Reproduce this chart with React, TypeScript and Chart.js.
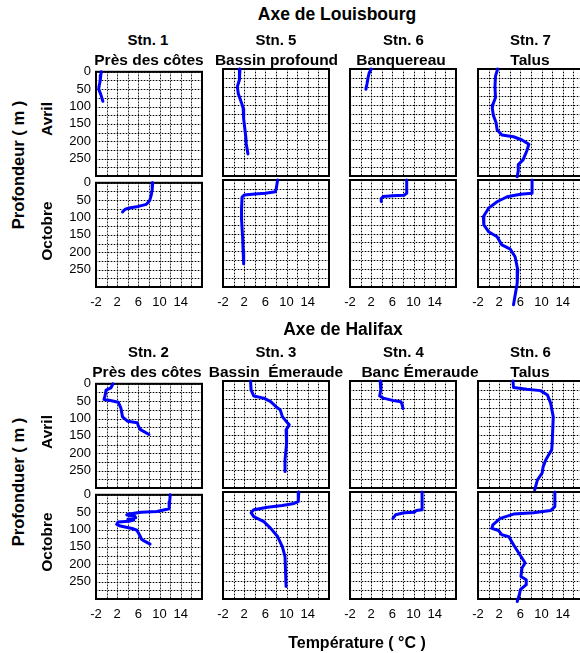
import React, { useEffect, useRef } from 'react';
import { Chart, registerables } from 'chart.js';
Chart.register(...registerables);

// ---------- data ----------
const depthTicks = [0, 50, 100, 150, 200, 250];
const tempTicks = [-2, 2, 6, 10, 14];
const depthMin = 0;
const depthMax = 300;
const tempMin = -2;
const tempMax = 18;
const gridTemps = [-2, 0, 2, 4, 6, 8, 10, 12, 14, 16, 18];
const gridDepths = [0, 25, 50, 75, 100, 125, 150, 175, 200, 225, 250, 275, 300];

// Axe de Louisbourg
const lStn1AvrilT = [-1.0, -1.1, -1.2, -1.4, -1.5, -1.1, -0.9, -0.7];
const lStn1AvrilD = [0, 10, 25, 40, 50, 65, 75, 85];
const lStn1OctT = [8.7, 8.6, 8.4, 8.1, 7.5, 6.0, 4.5, 3.5, 3.0];
const lStn1OctD = [0, 20, 37, 52, 62, 68, 72, 76, 84];

const lStn5AvrilT = [1.2, 1.1, 0.7, 0.9, 1.5, 1.8, 1.9, 2.1, 2.3, 2.4, 2.7];
const lStn5AvrilD = [0, 30, 50, 70, 95, 110, 140, 165, 190, 210, 238];
const lStn5OctT = [8.3, 8.1, 7.9, 6.0, 4.0, 2.0, 1.6, 1.5, 1.5, 1.7, 1.8, 1.9];
const lStn5OctD = [0, 20, 33, 37, 39, 42, 48, 80, 110, 160, 200, 235];

const lStn6AvrilT = [2.0, 1.6, 1.4, 1.2, 1.0];
const lStn6AvrilD = [0, 12, 25, 42, 57];
const lStn6OctT = [8.7, 8.7, 8.2, 6.0, 4.3, 3.9, 3.9];
const lStn6OctD = [0, 37, 43, 44, 46, 52, 60];

const lStn7AvrilT = [1.7, 1.3, 1.2, 1.3, 0.8, 0.7, 0.9, 1.4, 1.6, 2.5, 4.7, 6.3, 7.6, 7.2, 6.5, 5.6, 5.6, 5.4];
const lStn7AvrilD = [0, 20, 50, 80, 100, 110, 130, 150, 170, 185, 190, 199, 211, 230, 255, 268, 285, 302];
const lStn7OctT = [8.2, 8.2, 6.0, 3.5, 1.6, 0.0, -1.0, -0.9, 0.0, 1.6, 2.5, 4.1, 5.0, 5.5, 5.4, 4.7];
const lStn7OctD = [0, 37, 40, 47, 61, 79, 103, 126, 145, 159, 182, 194, 215, 252, 289, 350];

// Axe de Halifax
const hStn2AvrilT = [1.2, 0.8, -0.1, -0.3, -0.5, 0.7, 2.2, 2.7, 3.0, 4.0, 5.8, 6.0, 6.4, 8.0];
const hStn2AvrilD = [0, 12, 18, 35, 45, 48, 53, 70, 95, 108, 112, 122, 132, 146];
const hStn2OctT = [12.0, 11.9, 11.8, 9.5, 6.5, 4.2, 3.8, 5.3, 5.5, 4.0, 5.1, 4.2, 2.2, 1.9, 2.6, 4.8, 5.7, 6.2, 6.6, 7.0, 8.2];
const hStn2OctD = [0, 20, 40, 48, 50, 55, 58, 61, 66, 70, 73, 76, 78, 85, 90, 97, 102, 115, 128, 132, 142];

const hStn3AvrilT = [3.2, 3.3, 3.8, 5.7, 7.0, 8.0, 8.8, 9.2, 10.2, 10.5, 9.9, 10.0, 9.7, 9.7];
const hStn3AvrilD = [0, 25, 42, 48, 58, 72, 81, 100, 118, 123, 137, 174, 221, 254];
const hStn3OctT = [12.3, 12.2, 11.4, 9.2, 6.4, 3.8, 3.3, 3.8, 5.7, 7.0, 8.3, 9.2, 9.7, 9.9];
const hStn3OctD = [0, 27, 32, 38, 43, 50, 58, 69, 83, 102, 125, 153, 181, 265];

const hStn4AvrilT = [3.7, 3.8, 3.6, 4.3, 6.2, 7.6, 7.8, 8.0];
const hStn4AvrilD = [0, 25, 42, 48, 55, 58, 65, 77];
const hStn4OctT = [11.6, 11.6, 10.5, 10.1, 8.2, 6.6, 6.1];
const hStn4OctD = [0, 50, 52, 57, 58, 64, 74];

const hStn6AvrilT = [4.6, 4.7, 7.2, 9.8, 11.1, 11.7, 12.2, 12.0, 11.9, 10.8, 10.3, 10.1, 9.2, 8.7];
const hStn6AvrilD = [0, 18, 23, 27, 39, 62, 100, 174, 193, 221, 240, 258, 278, 305];
const hStn6OctT = [12.5, 12.5, 11.7, 8.5, 4.7, 2.2, 0.8, 0.6, 1.9, 2.5, 3.8, 4.7, 5.9, 6.9, 6.3, 6.1, 7.1, 7.1, 6.0, 5.8, 5.4];
const hStn6OctD = [0, 41, 52, 58, 62, 74, 92, 102, 108, 120, 125, 148, 176, 199, 213, 237, 246, 260, 274, 288, 307];

// ---------- layout ----------
const FONT = '"Liberation Sans", Arial, Helvetica, sans-serif';
Chart.defaults.font.family = FONT;

const PW = 106;
const PH = 107;
const PL = 40;
const PR = 4;
const PT = 10;
const PB = 28;
const colLeft = [96, 223, 350, 478];
const rowTop = [69, 180, 381, 492];

const gridPlugin = {
  id: 'panelGrid',
  beforeDatasetsDraw(chart: any) {
    const { ctx, chartArea, scales } = chart;
    const xs = scales.x;
    const ys = scales.y;
    ctx.save();
    const vx = gridTemps.map((v) => Math.round(xs.getPixelForValue(v)) + 0.5);
    const hy = gridDepths.map((v) => Math.round(ys.getPixelForValue(v)) + 0.5);
    ctx.lineWidth = 1;
    ctx.strokeStyle = '#b4b4b4';
    ctx.setLineDash([]);
    ctx.beginPath();
    vx.forEach((x) => { ctx.moveTo(x, chartArea.top); ctx.lineTo(x, chartArea.bottom); });
    hy.forEach((y) => { ctx.moveTo(chartArea.left, y); ctx.lineTo(chartArea.right, y); });
    ctx.stroke();
    ctx.strokeStyle = '#000';
    ctx.setLineDash([1, 2]);
    ctx.beginPath();
    vx.forEach((x) => { ctx.moveTo(x, chartArea.top); ctx.lineTo(x, chartArea.bottom); });
    hy.forEach((y) => { ctx.moveTo(chartArea.left, y); ctx.lineTo(chartArea.right, y); });
    ctx.stroke();
    ctx.setLineDash([]);
    ctx.lineWidth = 2;
    ctx.strokeStyle = '#000';
    ctx.strokeRect(chartArea.left, chartArea.top, chartArea.right - chartArea.left, chartArea.bottom - chartArea.top);
    ctx.restore();
  },
};

type PanelProps = { left: number; top: number; temps: number[]; depths: number[]; showY: boolean; showX: boolean };

function Panel({ left, top, temps, depths, showY, showX }: PanelProps) {
  const ref = useRef<HTMLCanvasElement | null>(null);
  useEffect(() => {
    if (!ref.current) return;
    const chart = new Chart(ref.current, {
      type: 'scatter',
      data: {
        datasets: [
          {
            data: temps.map((t, i) => ({ x: t, y: depths[i] })),
            showLine: true,
            borderColor: '#0000ff',
            backgroundColor: '#0000ff',
            borderWidth: 3,
            pointRadius: 0,
            tension: 0,
            clip: false as any,
            borderJoinStyle: 'round',
            borderCapStyle: 'round',
          } as any,
        ],
      },
      options: {
        animation: false,
        responsive: false,
        events: [],
        layout: { padding: { top: PT, right: PR, left: 0, bottom: 0 } },
        plugins: { legend: { display: false }, tooltip: { enabled: false } },
        scales: {
          x: {
            type: 'linear',
            position: 'bottom',
            min: tempMin,
            max: tempMax,
            afterBuildTicks: (s: any) => { s.ticks = tempTicks.map((v) => ({ value: v })); },
            afterFit: (s: any) => { s.height = PB; },
            ticks: { display: showX, color: '#000', font: { size: 13, family: FONT }, padding: 8, maxRotation: 0, autoSkip: false },
            grid: { display: false, drawTicks: false },
            border: { display: false },
          },
          y: {
            type: 'linear',
            reverse: true,
            min: depthMin,
            max: depthMax,
            afterBuildTicks: (s: any) => { s.ticks = depthTicks.map((v) => ({ value: v })); },
            afterFit: (s: any) => { s.width = PL; },
            ticks: { display: showY, color: '#000', font: { size: 13, family: FONT }, padding: 5, autoSkip: false },
            grid: { display: false, drawTicks: false },
            border: { display: false },
          },
        },
      } as any,
      plugins: [gridPlugin],
    });
    return () => chart.destroy();
  }, []);
  return (
    <canvas
      ref={ref}
      width={PL + PW + PR}
      height={PT + PH + PB}
      style={{ position: 'absolute', left: left - PL, top: top - PT }}
    />
  );
}

type Lbl = { text: string; x: number; y: number; size: number; rot?: boolean };

const labels: Lbl[] = [
  { text: 'Axe de Louisbourg', x: 337, y: 15, size: 17.5 },
  { text: 'Stn. 1', x: 148, y: 39, size: 15 },
  { text: 'Stn. 5', x: 276, y: 39, size: 15 },
  { text: 'Stn. 6', x: 403.5, y: 39, size: 15 },
  { text: 'Stn. 7', x: 530.5, y: 39, size: 15 },
  { text: 'Près des côtes', x: 149, y: 60, size: 15.5 },
  { text: 'Bassin profound', x: 276.5, y: 60, size: 15.5 },
  { text: 'Banquereau', x: 401, y: 60, size: 15.5 },
  { text: 'Talus', x: 530, y: 60, size: 15.5 },
  { text: 'Axe de Halifax', x: 343, y: 330, size: 17.5 },
  { text: 'Stn. 2', x: 148.5, y: 351, size: 15 },
  { text: 'Stn. 3', x: 276, y: 351, size: 15 },
  { text: 'Stn. 4', x: 403.5, y: 351, size: 15 },
  { text: 'Stn. 6', x: 530.5, y: 351, size: 15 },
  { text: 'Près des côtes', x: 147, y: 372, size: 15.5 },
  { text: 'Bassin  Émeraude', x: 276, y: 372, size: 15.5 },
  { text: 'Banc Émeraude', x: 420, y: 372, size: 15.5 },
  { text: 'Talus', x: 530, y: 372, size: 15.5 },
  { text: 'Profondeur ( m )', x: 18, y: 165, size: 16.5, rot: true },
  { text: 'Avril', x: 47, y: 119, size: 15.5, rot: true },
  { text: 'Octobre', x: 47, y: 231, size: 15.5, rot: true },
  { text: 'Profonduer ( m )', x: 18, y: 482, size: 16.5, rot: true },
  { text: 'Avril', x: 47, y: 432, size: 15.5, rot: true },
  { text: 'Octobre', x: 47, y: 542, size: 15.5, rot: true },
  { text: 'Température ( °C )', x: 357, y: 643, size: 16 },
];

const panels = [
  { c: 0, r: 0, t: lStn1AvrilT, d: lStn1AvrilD },
  { c: 1, r: 0, t: lStn5AvrilT, d: lStn5AvrilD },
  { c: 2, r: 0, t: lStn6AvrilT, d: lStn6AvrilD },
  { c: 3, r: 0, t: lStn7AvrilT, d: lStn7AvrilD },
  { c: 0, r: 1, t: lStn1OctT, d: lStn1OctD },
  { c: 1, r: 1, t: lStn5OctT, d: lStn5OctD },
  { c: 2, r: 1, t: lStn6OctT, d: lStn6OctD },
  { c: 3, r: 1, t: lStn7OctT, d: lStn7OctD },
  { c: 0, r: 2, t: hStn2AvrilT, d: hStn2AvrilD },
  { c: 1, r: 2, t: hStn3AvrilT, d: hStn3AvrilD },
  { c: 2, r: 2, t: hStn4AvrilT, d: hStn4AvrilD },
  { c: 3, r: 2, t: hStn6AvrilT, d: hStn6AvrilD },
  { c: 0, r: 3, t: hStn2OctT, d: hStn2OctD },
  { c: 1, r: 3, t: hStn3OctT, d: hStn3OctD },
  { c: 2, r: 3, t: hStn4OctT, d: hStn4OctD },
  { c: 3, r: 3, t: hStn6OctT, d: hStn6OctD },
];

export default function App() {
  return (
    <div style={{ position: 'absolute', left: 0, top: 0, width: 580, height: 653, overflow: 'hidden', background: '#fff', fontFamily: FONT }}>
      {panels.map((p, i) => (
        <Panel
          key={i}
          left={colLeft[p.c]}
          top={rowTop[p.r]}
          temps={p.t}
          depths={p.d}
          showY={p.c === 0}
          showX={p.r === 1 || p.r === 3}
        />
      ))}
      {labels.map((l, i) => (
        <div
          key={'l' + i}
          style={{
            position: 'absolute',
            left: l.x,
            top: l.y,
            transform: `translate(-50%, -50%)${l.rot ? ' rotate(-90deg)' : ''}`,
            fontSize: l.size,
            fontWeight: 'bold',
            lineHeight: 1,
            whiteSpace: 'pre',
            color: '#000',
          }}
        >
          {l.text}
        </div>
      ))}
    </div>
  );
}
